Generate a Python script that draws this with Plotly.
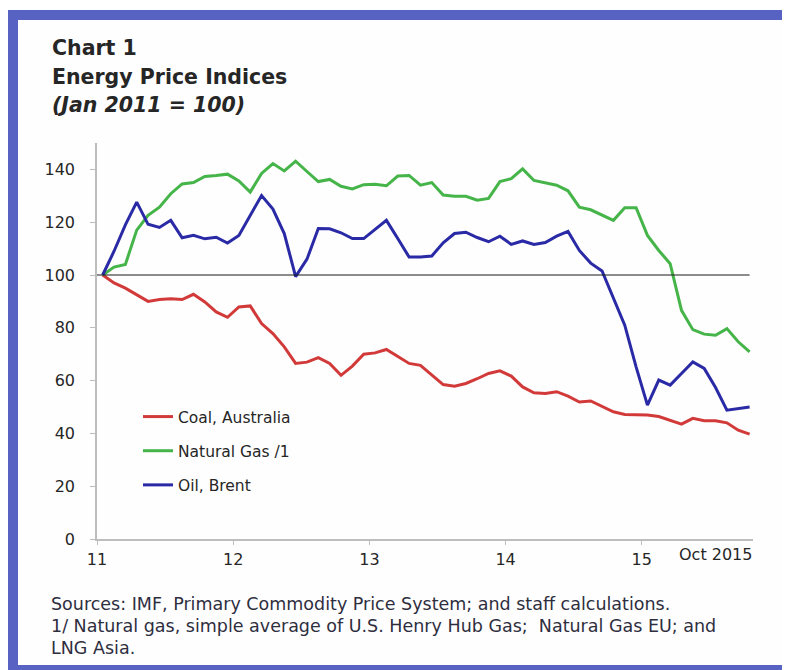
import plotly.graph_objects as go

# ---------------- data (monthly, Jan 2011 = 100) ----------------
months = list(range(58))  # Jan 2011 .. Oct 2015

coal_australia = [100, 97, 95, 92.6, 90, 90.7, 91, 90.7, 92.7, 89.8, 86, 84,
                  87.9, 88.3, 81.6, 77.8, 72.8, 66.5, 67, 68.7, 66.5, 62, 65.5, 70,
                  70.5, 71.8, 69, 66.5, 65.8, 62.2, 58.5, 57.9, 58.9, 60.7, 62.7, 63.7,
                  61.7, 57.6, 55.4, 55.1, 55.8, 54.1, 51.9, 52.3, 50.3, 48.2, 47.2, 47,
                  47, 46.4, 44.8, 43.5, 45.7, 44.8, 44.8, 44, 41.2, 39.7]

natural_gas = [100, 103, 104, 117, 122.6, 125.7, 130.8, 134.5, 135, 137.3, 137.7, 138.2,
               135.6, 131.4, 138.5, 142.2, 139.4, 143.1, 139.2, 135.4, 136.2, 133.6, 132.6, 134.2,
               134.4, 133.8, 137.5, 137.7, 134, 135, 130.3, 129.8, 129.8, 128.3, 129, 135.4,
               136.5, 140.2, 135.8, 134.8, 134, 131.9, 125.7, 124.7, 122.8, 120.7, 125.5, 125.5,
               115, 109.3, 104.3, 86.6, 79.3, 77.6, 77.2, 79.7, 74.7, 70.9]

oil_brent = [100, 109, 119, 127.6, 119.2, 118, 120.7, 114.1, 115, 113.7, 114.3, 112.1,
             115, 122.6, 130.1, 125, 115.7, 99.4, 106, 117.6, 117.5, 116, 113.8, 113.8,
             117.3, 120.7, 113.8, 106.8, 106.8, 107.2, 112.2, 115.7, 116.2, 114.2, 112.6, 114.7,
             111.6, 112.9, 111.6, 112.3, 114.7, 116.5, 109.3, 104.5, 101.5, 91.3, 81, 65.2,
             50.7, 60.2, 58.3, 62.7, 67.1, 64.6, 57.4, 48.8, 49.4, 50]

series_names = ["Coal, Australia", "Natural Gas /1", "Oil, Brent"]
year_labels = ["11", "12", "13", "14", "15"]
last_label = "Oct 2015"
y_tick_values = [0, 20, 40, 60, 80, 100, 120, 140]
base_value = 100

title_lines = ["<b>Chart 1</b>", "<b>Energy Price Indices</b>", "<b><i>(Jan 2011 = 100)</i></b>"]
footer_lines = ["Sources: IMF, Primary Commodity Price System; and staff calculations.",
                "1/ Natural gas, simple average of U.S. Henry Hub Gas;  Natural Gas EU; and",
                "LNG Asia."]

# ---------------- layout geometry (page pixels) ----------------
W, H = 790, 670
OFF = 8  # page body margin offset
L, R, T, B = 97 - OFF, 753 - OFF, 143 - OFF, 539 - OFF
PW, PH = R - L, B - T


def px(x):
    """page pixel x -> paper"""
    return (x - OFF - L) / PW


def py(y):
    """page pixel y -> paper"""
    return (B - (y - OFF)) / PH


FONT = "DejaVu Sans"
colors = ["#d23a3a", "#45b449", "#2a2aa6"]

fig = go.Figure()
for i, (name, vals) in enumerate(zip(series_names, [coal_australia, natural_gas, oil_brent])):
    fig.add_trace(go.Scatter(x=months, y=vals, mode="lines", name=name,
                             legendgroup=f"g{i}",
                             line=dict(color=colors[i], width=3)))

# frame
fig.add_shape(type="rect", xref="paper", yref="paper", layer="below",
              x0=px(6), x1=px(W + 20), y0=py(H + 20), y1=py(10),
              fillcolor="#5862c2", line=dict(width=0))
fig.add_shape(type="rect", xref="paper", yref="paper", layer="below",
              x0=px(18), x1=px(782), y0=py(665), y1=py(20),
              fillcolor="#fefefe", line=dict(width=0))

# reference line at 100
fig.add_shape(type="line", xref="x", yref="y", x0=-0.5, x1=months[-1],
              y0=base_value, y1=base_value, line=dict(color="#1a1a1a", width=1.2))

# titles
for txt, yc in zip(title_lines, [48, 77, 105]):
    fig.add_annotation(text=txt, xref="paper", yref="paper", x=px(50), y=py(yc),
                       xanchor="left", yanchor="middle", showarrow=False,
                       font=dict(family=FONT, size=20.5, color="#262626"))

# footer
for txt, yc in zip(footer_lines, [604, 626, 648]):
    fig.add_annotation(text=txt, xref="paper", yref="paper", x=px(49), y=py(yc),
                       xanchor="left", yanchor="middle", showarrow=False,
                       font=dict(family=FONT, size=17.5, color="#2e2e3e"))

# Oct 2015 label
fig.add_annotation(text=last_label, xref="paper", yref="paper", x=px(715), y=py(554),
                   xanchor="center", yanchor="middle", showarrow=False,
                   font=dict(family=FONT, size=16, color="#262626"))

fig.update_layout(
    width=W, height=H,
    margin=dict(l=L, r=W - R, t=T, b=H - B),
    paper_bgcolor="white",
    plot_bgcolor="rgba(0,0,0,0)",
    showlegend=True,
    legend=dict(x=px(138), y=py(400), xanchor="left", yanchor="top",
                bgcolor="rgba(0,0,0,0)", borderwidth=0,
                font=dict(family=FONT, size=15.5, color="#262626"),
                traceorder="grouped", tracegroupgap=11, itemwidth=30),
    font=dict(family=FONT),
)

fig.update_xaxes(range=[-0.5, 57.3], tickmode="array",
                 tickvals=[i * 12 - 0.5 for i in range(len(year_labels))],
                 ticktext=year_labels, showgrid=False, zeroline=False,
                 showline=True, linecolor="#bdbdbd", linewidth=1.5,
                 ticks="outside", ticklen=4, tickcolor="#bdbdbd",
                 ticklabelstandoff=1,
                 tickfont=dict(family=FONT, size=16, color="#262626"))
fig.update_yaxes(range=[0, 150], tickmode="array", tickvals=y_tick_values,
                 showgrid=False, zeroline=False,
                 showline=True, linecolor="#bdbdbd", linewidth=1.5,
                 ticks="outside", ticklen=5, tickcolor="#bdbdbd",
                 ticklabelstandoff=12,
                 tickfont=dict(family=FONT, size=16, color="#262626"))

fig.write_html("out.html")
